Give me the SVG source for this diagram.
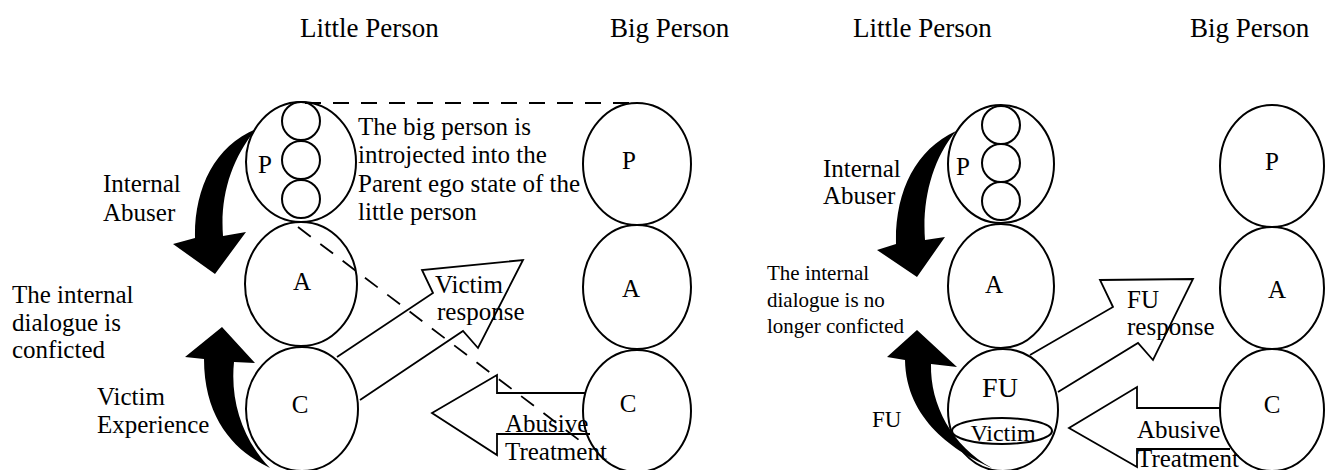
<svg xmlns="http://www.w3.org/2000/svg" width="1325" height="470" viewBox="0 0 1325 470" font-family="'Liberation Serif', 'DejaVu Serif', serif">
<style>
text{font-family:'Liberation Serif','DejaVu Serif',serif;fill:#000}
.t{font-size:25px}
.h{font-size:27px}
.s{font-size:21px}
.l{font-size:25px;text-anchor:middle}
.ego{fill:none;stroke:#000;stroke-width:2}
.ln{fill:none;stroke:#000;stroke-width:1.8;stroke-linejoin:miter}
.dash{fill:none;stroke:#000;stroke-width:1.8;stroke-dasharray:16 12}
.blk{fill:#000;stroke:none}
</style>
<rect width="1325" height="470" fill="#fff"/>

<g id="titles" font-family="'Liberation Serif', serif">
<text class="h" x="300" y="37">Little Person</text>
<text class="h" x="610" y="37">Big Person</text>
<text class="h" x="853" y="37">Little Person</text>
<text class="h" x="1190" y="37">Big Person</text>
</g>

<g id="left-little-P">
<ellipse class="ego" cx="301" cy="162" rx="55" ry="60"/>
<circle class="ego" cx="301" cy="121" r="19"/>
<circle class="ego" cx="301" cy="160" r="19"/>
<circle class="ego" cx="301" cy="199" r="19"/>
<text class="l" x="265" y="173">P</text>
</g>
<g id="left-little-A">
<ellipse class="ego" cx="301" cy="284" rx="56" ry="62"/>
<text class="l" x="302" y="290">A</text>
</g>
<g id="left-little-C">
<ellipse class="ego" cx="302" cy="409" rx="56" ry="62"/>
<text class="l" x="300" y="413">C</text>
</g>

<g id="left-big-P">
<ellipse class="ego" cx="637" cy="164" rx="54" ry="61"/>
<text class="l" x="629" y="169">P</text>
</g>
<g id="left-big-A">
<ellipse class="ego" cx="637" cy="287" rx="54" ry="62"/>
<text class="l" x="631" y="297">A</text>
</g>
<g id="left-big-C">
<ellipse class="ego" cx="637" cy="411" rx="54" ry="61"/>
<text class="l" x="628" y="412">C</text>
</g>

<g id="left-labels" font-family="'Liberation Serif', serif">
<text class="t" x="103" y="192">Internal</text>
<text class="t" x="103" y="221">Abuser</text>
<text class="t" x="12" y="303">The internal</text>
<text class="t" x="12" y="331">dialogue is</text>
<text class="t" x="12" y="358">conficted</text>
<text class="t" x="97" y="405">Victim</text>
<text class="t" x="97" y="433">Experience</text>
<text class="t" x="358" y="135">The big person is</text>
<text class="t" x="358" y="163">introjected into the</text>
<text class="t" x="358" y="192">Parent ego state of the</text>
<text class="t" x="358" y="220">little person</text>
<text class="t" x="435" y="293">Victim</text>
<text class="t" x="437" y="320">response</text>
<text class="t" x="505" y="432">Abusive</text>
<text class="t" x="505" y="460">Treatment</text>
</g>

<g id="right-little-P">
<ellipse class="ego" cx="1001" cy="164" rx="53" ry="59"/>
<circle class="ego" cx="1001" cy="125" r="19"/>
<circle class="ego" cx="1001" cy="163" r="19"/>
<circle class="ego" cx="1001" cy="201" r="19"/>
<text class="l" x="963" y="175">P</text>
</g>
<g id="right-little-A">
<ellipse class="ego" cx="1001" cy="286" rx="53" ry="62"/>
<text class="l" x="994" y="293">A</text>
</g>
<g id="right-little-FU">
<ellipse class="ego" cx="1003" cy="410" rx="55" ry="61"/>
<text x="1000" y="397" style="font-size:28px;text-anchor:middle">FU</text>
<ellipse class="ego" cx="1002" cy="431" rx="50" ry="13"/>
<text x="1003" y="441" style="font-size:24px;text-anchor:middle">Victim</text>
</g>

<g id="right-big-P">
<ellipse class="ego" cx="1272" cy="166" rx="52" ry="61"/>
<text class="l" x="1272" y="170">P</text>
</g>
<g id="right-big-A">
<ellipse class="ego" cx="1272" cy="288" rx="52" ry="61"/>
<text class="l" x="1277" y="298">A</text>
</g>
<g id="right-big-C">
<ellipse class="ego" cx="1272" cy="410" rx="52" ry="61"/>
<text class="l" x="1272" y="413">C</text>
</g>

<g id="right-labels" font-family="'Liberation Serif', serif">
<text class="t" x="823" y="177">Internal</text>
<text class="t" x="823" y="204">Abuser</text>
<text class="s" x="767" y="280">The internal</text>
<text class="s" x="767" y="307">dialogue is no</text>
<text class="s" x="767" y="333">longer conficted</text>
<text x="872" y="427" style="font-size:23px">FU</text>
<text class="t" x="1127" y="308">FU</text>
<text class="t" x="1127" y="335">response</text>
<text class="t" x="1137" y="438">Abusive</text>
<text class="t" x="1137" y="467">Treatment</text>
</g>

<g id="connectors">
<line class="dash" x1="305" y1="103" x2="640" y2="103"/>
<line class="dash" x1="298" y1="227" x2="583" y2="443"/>
<path class="blk" d="M256 129 C214 146 194 190 195 238 L173 244 L215 274 L246 232 L223 236 C220 196 231 160 256 129 Z"/>
<path class="blk" d="M270 468 C236 452 204 420 204 359 L185 357 L222 327 L255 363 L234 362 C230 402 243 440 270 468 Z"/>
<polyline class="ln" points="337,357 433,293 422,270 523,260 478,348 463,331 360,400"/>
<polyline class="ln" points="585,393 497,393 497,375 432,413 497,455 497,434 590,434"/>
<path class="blk" d="M956 131 C915 150 895 192 896 244 L877 250 L917 277 L945 237 L925 240 C922 200 932 160 956 131 Z"/>
<path class="blk" d="M992 468 C955 452 906 420 905 360 L887 357 L917 330 L957 367 L931 364 C930 405 952 446 992 468 Z"/>
<polyline class="ln" points="1030,355 1113,307 1100,280 1193,279 1153,360 1138,343 1058,392"/>
<polyline class="ln" points="1220,408 1137,408 1137,387 1069,428 1137,467 1137,449 1230,449"/>
</g>
</svg>
